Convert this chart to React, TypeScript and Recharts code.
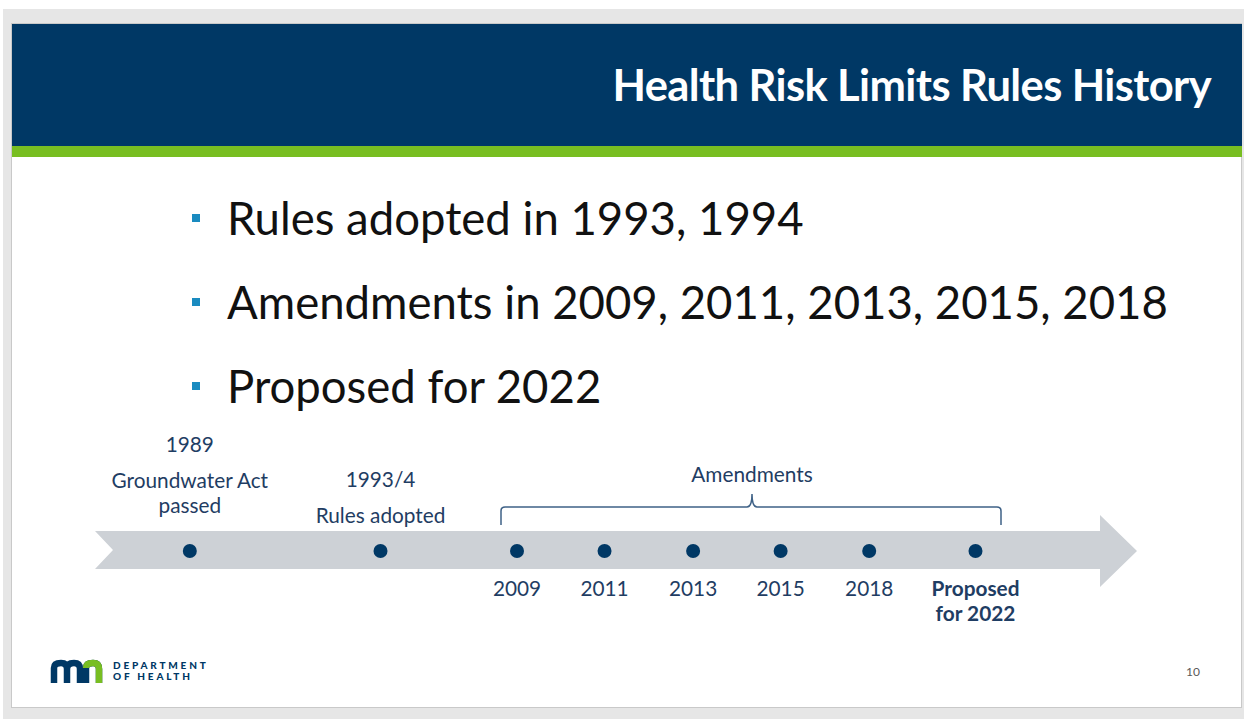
import { ScatterChart, Scatter, XAxis, YAxis } from "recharts";

// ── timeline data ──
const eventPos = [9.1, 27.4, 40.5, 48.9, 57.4, 65.8, 74.3, 84.5];
const aboveLabels: string[][][] = [
  [["1989"], ["Groundwater Act", "passed"]],
  [["1993/4"], ["Rules adopted"]],
  [], [], [], [], [], [],
];
const belowLabels: string[][] = [[], [], ["2009"], ["2011"], ["2013"], ["2015"], ["2018"], ["Proposed", "for 2022"]];
const boldEvents = [false, false, false, false, false, false, false, true];

const bullets = ["Rules adopted in 1993, 1994", "Amendments in 2009, 2011, 2013, 2015, 2018", "Proposed for 2022"];
const title = "Health Risk Limits Rules History";
const bracketLabel = "Amendments";

const events = eventPos.map((x, i) => ({
  x,
  y: 0,
  above: aboveLabels[i],
  below: belowLabels[i],
  bold: boldEvents[i],
}));

const NAVY = "#003865";
const TEXT = "#1f3d63";
const FONT = "Lato, 'Noto Sans', sans-serif";
const LABEL_SIZE = 20.8;

const EventMark = (props: any) => {
  const { cx, cy, payload } = props;
  const paras: string[][] = payload.above || [];
  const aboveEls: any[] = [];
  if (paras.length) {
    // lay out bottom-up: last line of last paragraph sits just above the bar
    let y = cy - 28 - 10 * (paras[paras.length - 1].length - 1);
    for (let p = paras.length - 1; p >= 0; p--) {
      const lines = paras[p];
      for (let l = lines.length - 1; l >= 0; l--) {
        aboveEls.push(
          <text key={`a${p}-${l}`} x={cx} y={y} textAnchor="middle" fill={TEXT} fontSize={LABEL_SIZE} fontFamily={FONT}>
            {lines[l]}
          </text>
        );
        y -= 25;
      }
      y -= 11;
    }
  }
  return (
    <g>
      <circle cx={cx} cy={cy} r={7} fill={NAVY} />
      {aboveEls}
      {(payload.below || []).map((t: string, i: number) => (
        <text
          key={`b${i}`}
          x={cx}
          y={cy + 45 + i * 25}
          textAnchor="middle"
          fill={TEXT}
          fontSize={LABEL_SIZE}
          fontWeight={payload.bold ? 700 : 400}
          fontFamily={FONT}
        >
          {t}
        </text>
      ))}
    </g>
  );
};

export default function App() {
  return (
    <div style={{ position: "fixed", left: 0, top: 0, width: 1244, height: 719, background: "#fff", overflow: "hidden", fontFamily: FONT }}>
      {/* grey frame */}
      <div style={{ position: "absolute", left: 3, top: 9, width: 1241, height: 710, background: "#e6e6e6" }} />
      {/* slide */}
      <div style={{ position: "absolute", left: 11, top: 23, width: 1231, height: 685, background: "#fff", border: "1px solid #c9c9c9", boxSizing: "border-box" }} />
      <div style={{ position: "absolute", left: 12, top: 24, width: 1230, height: 122, background: NAVY }} />
      <div style={{ position: "absolute", left: 12, top: 146, width: 1230, height: 11, background: "#78be21" }} />
      <div
        style={{
          position: "absolute",
          right: 33,
          top: 59,
          color: "#fff",
          fontWeight: 700,
          fontSize: 43.5,
          lineHeight: "50px",
          letterSpacing: -0.6,
          whiteSpace: "nowrap",
        }}
      >
        {title}
      </div>

      {/* bullets */}
      {bullets.map((b, i) => (
        <div key={b} style={{ position: "absolute", left: 192, top: 192 + i * 84, height: 52, whiteSpace: "nowrap" }}>
          <div style={{ position: "absolute", left: 0, top: 22, width: 8, height: 8, background: "#1a8bc0" }} />
          <div style={{ position: "absolute", left: 35, top: 0, fontSize: 45.5, lineHeight: "52px", color: "#111" }}>{b}</div>
        </div>
      ))}

      {/* arrow + bracket */}
      <svg style={{ position: "absolute", left: 0, top: 0 }} width={1244} height={719}>
        <polygon points="95,531 1100,531 1100,515 1137,551 1100,587 1100,569 95,569 113,550" fill="#cdd1d6" />
        <path
          d="M501,525 V511 Q501,507 505,507 H747 Q752,507 752,494 Q752,507 757,507 H997 Q1001,507 1001,511 V525"
          fill="none"
          stroke="#3f6287"
          strokeWidth={1.5}
        />
        <text x={752} y={482} textAnchor="middle" fill={TEXT} fontSize={LABEL_SIZE} fontFamily={FONT}>
          {bracketLabel}
        </text>
      </svg>

      {/* timeline events */}
      <div style={{ position: "absolute", left: 0, top: 401 }}>
        <ScatterChart width={1244} height={300} margin={{ top: 0, right: 107, bottom: 0, left: 95 }}>
          <XAxis type="number" dataKey="x" domain={[0, 100]} hide />
          <YAxis type="number" dataKey="y" domain={[-1, 1]} hide />
          <Scatter data={events} shape={<EventMark />} isAnimationActive={false} />
        </ScatterChart>
      </div>

      {/* footer logo */}
      <svg style={{ position: "absolute", left: 48, top: 656 }} width={60} height={30}>
        <path d="M6,27 V12 Q6,7 13,7 Q19,7 19,13 V27 M19,13 Q19,7 26,7 Q32,7 32,13 V27" fill="none" stroke={NAVY} strokeWidth={6.5} />
        <path d="M38,27 V12 Q38,7 45,7 Q51,7 51,13 V27" fill="none" stroke={NAVY} strokeWidth={6.5} />
        <path d="M38,12 Q38,7 45,7 Q51,7 51,13 V27" fill="none" stroke="#78be21" strokeWidth={6.5} />
      </svg>
      <div style={{ position: "absolute", left: 113, top: 660, color: NAVY, fontSize: 10, fontWeight: 900, lineHeight: "11px", letterSpacing: 2.8 }}>
        DEPARTMENT
        <br />
        OF HEALTH
      </div>
      <div style={{ position: "absolute", left: 1186, top: 664, color: "#595959", fontSize: 12 }}>10</div>
    </div>
  );
}
